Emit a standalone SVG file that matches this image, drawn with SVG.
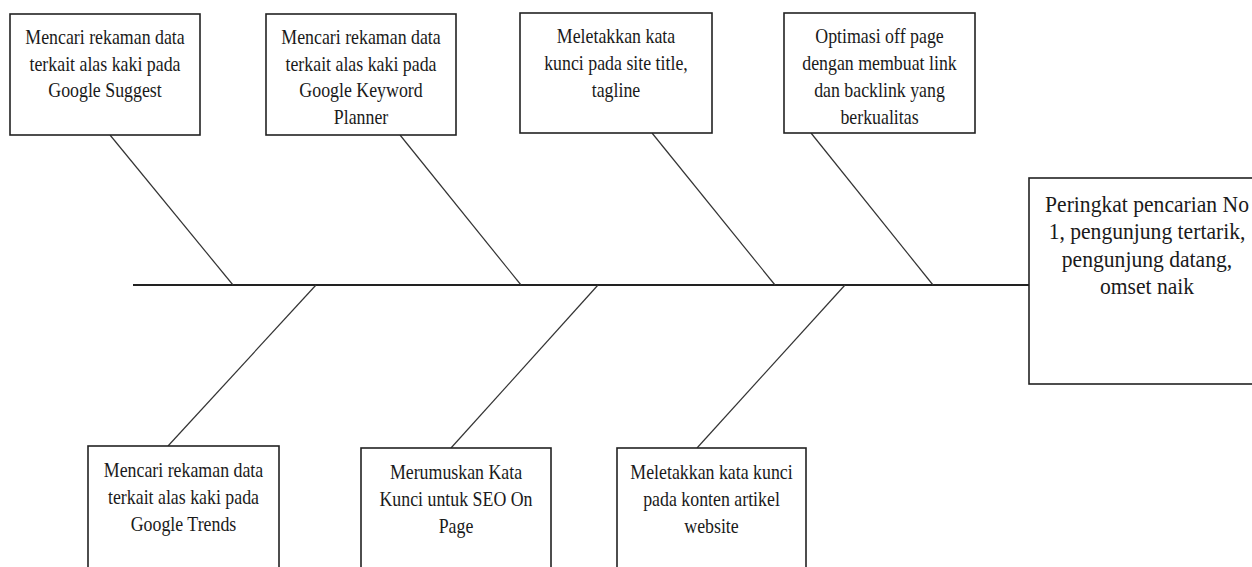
<svg xmlns="http://www.w3.org/2000/svg" width="1252" height="567" viewBox="0 0 1252 567">
<style>
.box{fill:#fff;stroke:#222;stroke-width:1.6}
.ln{stroke:#333;stroke-width:1.2;fill:none}
.spine{stroke:#222;stroke-width:2.2;fill:none}
text{font-family:"Liberation Serif","Times New Roman",serif;font-size:21px;fill:#1a1a1a;text-anchor:middle}
.big{font-size:24px}
</style>
<rect width="1252" height="567" fill="#fff"/>
<g id="connectors">
<line class="spine" x1="133" y1="285" x2="1029" y2="285"/>
<line class="ln" x1="110" y1="135" x2="233" y2="285"/>
<line class="ln" x1="400" y1="135" x2="521" y2="285"/>
<line class="ln" x1="652" y1="133" x2="775" y2="285"/>
<line class="ln" x1="811" y1="133" x2="933" y2="285"/>
<line class="ln" x1="168" y1="446" x2="316" y2="285"/>
<line class="ln" x1="451" y1="448" x2="598" y2="285"/>
<line class="ln" x1="697" y1="448" x2="845" y2="285"/>
</g>
<g id="n1">
<rect class="box" x="10" y="14" width="190" height="121"/>
<g transform="translate(105,0) scale(0.85,1)"><text x="0" y="44">Mencari rekaman data<tspan x="0" dy="26.7">terkait alas kaki pada</tspan><tspan x="0" dy="26.7">Google Suggest</tspan></text></g>
</g>
<g id="n2">
<rect class="box" x="266" y="14" width="190" height="121"/>
<g transform="translate(361,0) scale(0.85,1)"><text x="0" y="44">Mencari rekaman data<tspan x="0" dy="26.7">terkait alas kaki pada</tspan><tspan x="0" dy="26.7">Google Keyword</tspan><tspan x="0" dy="26.7">Planner</tspan></text></g>
</g>
<g id="n3">
<rect class="box" x="520" y="13" width="192" height="120"/>
<g transform="translate(616,0) scale(0.85,1)"><text x="0" y="43">Meletakkan kata<tspan x="0" dy="27">kunci pada site title,</tspan><tspan x="0" dy="27">tagline</tspan></text></g>
</g>
<g id="n4">
<rect class="box" x="784" y="13" width="191" height="120"/>
<g transform="translate(879.5,0) scale(0.85,1)"><text x="0" y="43">Optimasi off page<tspan x="0" dy="27">dengan membuat link</tspan><tspan x="0" dy="27">dan backlink yang</tspan><tspan x="0" dy="27">berkualitas</tspan></text></g>
</g>
<g id="n5">
<rect class="box" x="1029" y="178" width="240" height="206"/>
<g transform="translate(1147,0) scale(0.9,1)"><text class="big" x="0" y="212">Peringkat pencarian No<tspan x="0" dy="27.5">1, pengunjung tertarik,</tspan><tspan x="0" dy="27.5">pengunjung datang,</tspan><tspan x="0" dy="27.5">omset naik</tspan></text></g>
</g>
<g id="n6">
<rect class="box" x="88" y="446" width="191" height="140"/>
<g transform="translate(183.5,0) scale(0.85,1)"><text x="0" y="477">Mencari rekaman data<tspan x="0" dy="27">terkait alas kaki pada</tspan><tspan x="0" dy="27">Google Trends</tspan></text></g>
</g>
<g id="n7">
<rect class="box" x="361" y="448" width="190" height="140"/>
<g transform="translate(456,0) scale(0.85,1)"><text x="0" y="479">Merumuskan Kata<tspan x="0" dy="27">Kunci untuk SEO On</tspan><tspan x="0" dy="27">Page</tspan></text></g>
</g>
<g id="n8">
<rect class="box" x="617" y="448" width="189" height="140"/>
<g transform="translate(711.5,0) scale(0.85,1)"><text x="0" y="479">Meletakkan kata kunci<tspan x="0" dy="27">pada konten artikel</tspan><tspan x="0" dy="27">website</tspan></text></g>
</g>
</svg>
